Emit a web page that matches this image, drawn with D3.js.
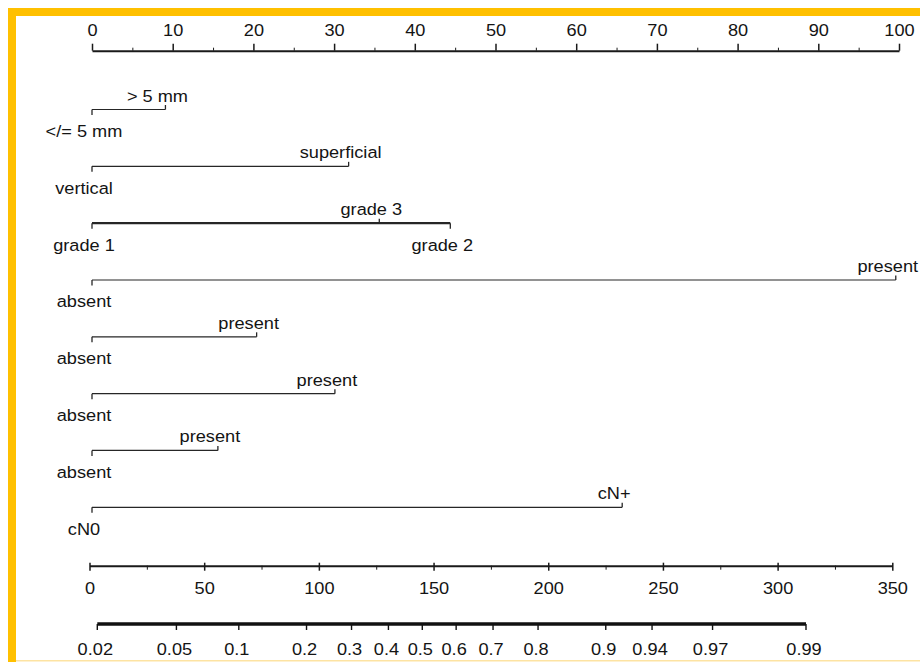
<!DOCTYPE html>
<html>
<head>
<meta charset="utf-8">
<script src="https://cdn.jsdelivr.net/npm/d3@7"></script>
<style>
  body { margin: 0; background: #fff; }
  text { font-family: "Liberation Sans", Arial, sans-serif; fill: #141414; }
</style>
</head>
<body>
<script>
// size
var w = 920;
var h = 662;

// data
var pointTicks = [0, 10, 20, 30, 40, 50, 60, 70, 80, 90, 100];
var pointMinor = [5, 15, 25, 35, 45, 55, 65, 75, 85, 95];

var sizeLevels = ["</= 5 mm", "> 5 mm"];
var sizePoints = [0, 9.1];
var invasionLevels = ["vertical", "superficial"];
var invasionPoints = [0, 31.8];
var gradeLevels = ["grade 1", "grade 3", "grade 2"];
var gradePoints = [0, 35.6, 44.4];
var var4Levels = ["absent", "present"];
var var4Points = [0, 99.6];
var var5Levels = ["absent", "present"];
var var5Points = [0, 20.4];
var var6Levels = ["absent", "present"];
var var6Points = [0, 30.1];
var var7Levels = ["absent", "present"];
var var7Points = [0, 15.6];
var nodeLevels = ["cN0", "cN+"];
var nodePoints = [0, 65.7];

var totalTicks = [0, 50, 100, 150, 200, 250, 300, 350];
var totalMinor = [25, 75, 125, 175, 225, 275, 325];

var probTicks = [0.02, 0.05, 0.1, 0.2, 0.3, 0.4, 0.5, 0.6, 0.7, 0.8, 0.9, 0.94, 0.97, 0.99];

var rows = [
  { levels: sizeLevels, pts: sizePoints, bold: false },
  { levels: invasionLevels, pts: invasionPoints, bold: false },
  { levels: gradeLevels, pts: gradePoints, bold: true },
  { levels: var4Levels, pts: var4Points, bold: false },
  { levels: var5Levels, pts: var5Points, bold: false },
  { levels: var6Levels, pts: var6Points, bold: false },
  { levels: var7Levels, pts: var7Points, bold: false },
  { levels: nodeLevels, pts: nodePoints, bold: false }
];

var stretch = "scale(1.07,1)";
var fs = "17px";

var svg = d3.select("body")
            .append("svg")
            .attr("width", w)
            .attr("height", h);

svg.append("rect").attr("width", w).attr("height", h).attr("fill", "#fff");

// frame
svg.append("rect").attr("x", 8).attr("y", 8).attr("width", w - 8).attr("height", 8).attr("fill", "#ffc000");
svg.append("rect").attr("x", 8).attr("y", 8).attr("width", 8).attr("height", h - 8).attr("fill", "#ffc000");
svg.append("rect").attr("x", 16).attr("y", 660).attr("width", w - 16).attr("height", 1.5).attr("fill", "#fde3a2");

// points axis
var x = d3.scaleLinear().domain([0, 100]).range([92, 899]);
var topY = 50.7;

var topAxis = svg.append("g")
   .attr("transform", "translate(0," + topY + ")")
   .call(d3.axisTop(x).tickValues(pointTicks).tickSize(7).tickSizeOuter(0).tickPadding(8));
topAxis.select(".domain").attr("stroke", "#1a1a1a").attr("stroke-width", 2);
topAxis.selectAll(".tick line").attr("stroke", "#1a1a1a").attr("stroke-width", 1.5);
topAxis.selectAll("text").attr("transform", stretch).style("font-size", fs);

var topMinor = svg.append("g")
   .attr("transform", "translate(0," + topY + ")")
   .call(d3.axisTop(x).tickValues(pointMinor).tickSize(3).tickFormat(""));
topMinor.select(".domain").remove();
topMinor.selectAll(".tick line").attr("stroke", "#1a1a1a");

// variable rows
var rowY = d3.scaleLinear().domain([0, 7]).range([109.5, 507.3]);

rows.forEach(function(r, i) {
  var y = rowY(i);
  var g = svg.append("g");
  var maxPt = d3.max(r.pts);
  g.append("line")
   .attr("x1", x(0)).attr("x2", x(maxPt))
   .attr("y1", y).attr("y2", y)
   .attr("stroke", "#262626")
   .attr("stroke-width", r.bold ? 2.4 : 1.2);
  r.levels.forEach(function(lab, j) {
    var px = x(r.pts[j]);
    // lower label for first level and last grade, upper for the rest
    var down = (j === 0) || (r.levels.length > 2 && j === r.levels.length - 1);
    g.append("line")
     .attr("x1", px).attr("x2", px)
     .attr("y1", y).attr("y2", down ? y + 5.5 : y - 4.5)
     .attr("stroke", "#262626")
     .attr("stroke-width", 1.3);
    g.append("text")
     .attr("transform", "translate(" + (px - 8) + "," + (down ? y + 27.5 : y - 8) + ") " + stretch)
     .attr("text-anchor", "middle")
     .style("font-size", fs)
     .text(lab);
  });
});

// total points axis
var xt = d3.scaleLinear().domain([0, 350]).range([89.5, 892.3]);
var totY = 565.7;
var totAxis = svg.append("g")
   .attr("transform", "translate(0," + totY + ")")
   .call(d3.axisBottom(xt).tickValues(totalTicks).tickSize(5).tickSizeOuter(0));
totAxis.select(".domain").attr("stroke", "#1a1a1a").attr("stroke-width", 2);
totAxis.selectAll(".tick line").attr("y1", -3).attr("stroke", "#1a1a1a").attr("stroke-width", 1.5);
totAxis.selectAll("text").attr("y", 28.5).attr("dy", null).attr("transform", stretch).style("font-size", fs);

var totMinor = svg.append("g")
   .attr("transform", "translate(0," + totY + ")")
   .call(d3.axisBottom(xt).tickValues(totalMinor).tickSize(4).tickFormat(""));
totMinor.select(".domain").remove();
totMinor.selectAll(".tick line").attr("stroke", "#1a1a1a");

// probability axis (logit scale)
function logit(p) { return Math.log(p / (1 - p)); }
var xp = d3.scaleLinear().domain([logit(0.02), logit(0.99)]).range([97.3, 806]);
var probY = 624;
var pg = svg.append("g").attr("transform", "translate(0," + probY + ")");
pg.append("line")
  .attr("x1", xp(logit(0.02))).attr("x2", xp(logit(0.99)))
  .attr("stroke", "#111").attr("stroke-width", 3.5);
var pt = pg.selectAll("g.pt")
  .data(probTicks)
  .enter()
  .append("g")
  .attr("class", "pt")
  .attr("transform", function(d) { return "translate(" + xp(logit(d)) + ",0)"; });
pt.append("line").attr("y1", 0).attr("y2", 6).attr("stroke", "#111").attr("stroke-width", 1.4);
pt.append("text")
  .attr("transform", "translate(-2,31) " + stretch)
  .attr("text-anchor", "middle")
  .style("font-size", fs)
  .text(function(d) { return d; });
</script>
</body>
</html>
